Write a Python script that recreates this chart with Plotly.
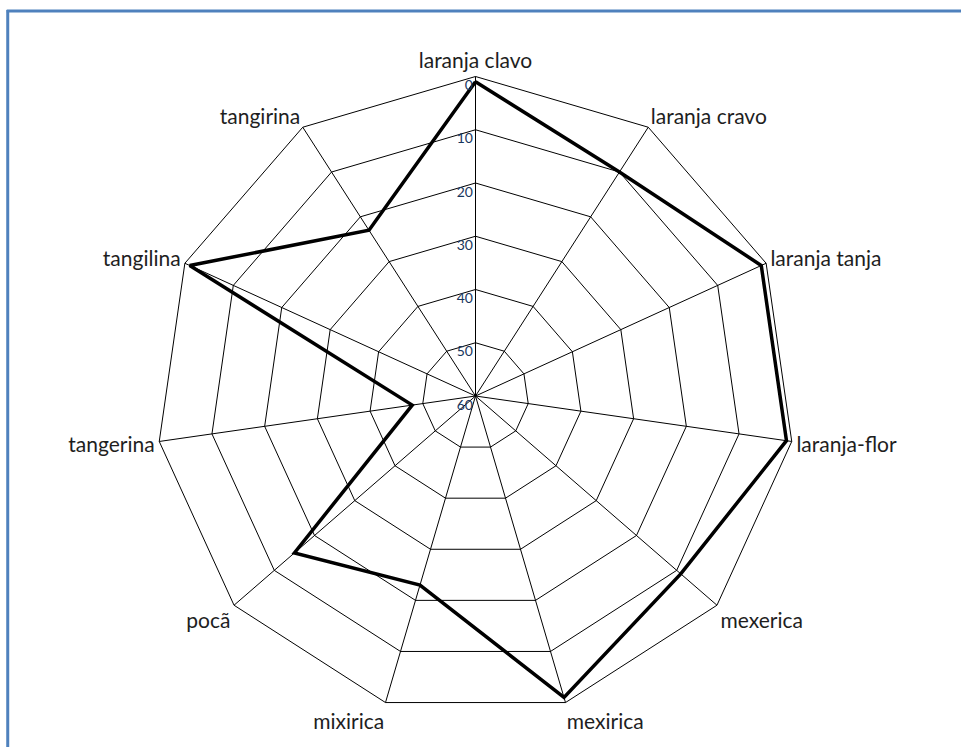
import plotly.graph_objects as go

categories = ["laranja clavo", "laranja cravo", "laranja tanja", "laranja-flor",
              "mexerica", "mexirica", "mixirica", "pocã", "tangerina",
              "tangilina", "tangirina"]
values = [1, 10, 1, 1, 9, 1, 23, 15, 48, 1, 23]
radial_ticks = [0, 10, 20, 30, 40, 50, 60]

W, H = 961, 747
SIZE = 640
CX, CY = 475.5, 396
ML = CX - SIZE / 2
MT = CY - SIZE / 2
MR = W - ML - SIZE
MB = H - MT - SIZE

def px_x(p):
    return (p - ML) / SIZE

def px_y(p):
    return (H - MB - p) / SIZE

fig = go.Figure()
fig.add_trace(go.Scatterpolar(
    r=values + values[:1],
    theta=categories + categories[:1],
    mode="lines",
    line=dict(color="black", width=3.5),
    showlegend=False,
    hoverinfo="skip",
))

border = "#4F81BD"
fig.update_layout(
    width=W, height=H,
    margin=dict(l=ML, r=MR, t=MT, b=MB, pad=0),
    paper_bgcolor="white",
    plot_bgcolor="white",
    font=dict(family="Lato, Carlito, Calibri, sans-serif", color="#1e1e1e"),
    polar=dict(
        bgcolor="white",
        gridshape="linear",
        angularaxis=dict(
            direction="clockwise",
            rotation=90,
            categoryorder="array",
            categoryarray=categories,
            showline=True,
            linecolor="black",
            linewidth=1,
            gridcolor="black",
            gridwidth=1,
            ticks="",
            tickfont=dict(size=21, color="#1e1e1e"),
        ),
        radialaxis=dict(
            range=[60, 0],
            tickvals=radial_ticks,
            ticktext=["<br>" + str(t) for t in radial_ticks],
            angle=90,
            tickangle=90,
            side="counterclockwise",
            showline=False,
            gridcolor="black",
            gridwidth=1,
            ticks="",
            tickfont=dict(size=14, color="#17365D"),
        ),
    ),
    shapes=[
        dict(type="line", xref="paper", yref="paper",
             x0=px_x(7), x1=px_x(7), y0=px_y(10), y1=px_y(H + 5),
             line=dict(color=border, width=3)),
        dict(type="line", xref="paper", yref="paper",
             x0=px_x(6), x1=px_x(W + 5), y0=px_y(11), y1=px_y(11),
             line=dict(color=border, width=3)),
    ],
)

fig.write_html("out.html", config={"displayModeBar": False},
               post_script="document.body.style.margin='0';")
